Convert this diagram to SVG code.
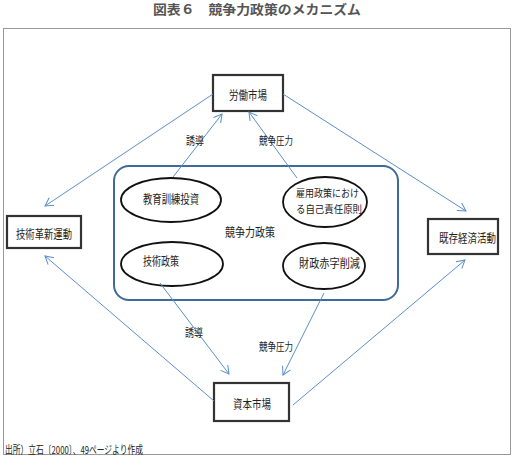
<svg xmlns="http://www.w3.org/2000/svg" width="513" height="457" viewBox="0 0 513 457">
<style>
text{font-family:"Noto Sans CJK JP","Noto Sans CJK SC",sans-serif;fill:#222;dominant-baseline:central}
.t{font-size:12px}
.s{font-size:11px}
.k{font-size:10px}
.box{fill:#fff;stroke:#333;stroke-width:2.2}
.ell{fill:#fff;stroke:#111;stroke-width:1.8}
.c{stroke:#5b8fc9;stroke-width:1;fill:none}
</style>
<defs>
<marker id="arr" markerUnits="userSpaceOnUse" markerWidth="12" markerHeight="12" refX="9" refY="5" orient="auto">
<path d="M1,0.5 L9,5 L1,9.5" fill="none" stroke="#5b8fc9" stroke-width="1"/>
</marker>
</defs>
<rect x="0" y="0" width="513" height="457" fill="#fff"/>
<text x="257" y="8" text-anchor="middle" style="font-size:13px;font-weight:bold;fill:#555" textLength="208" lengthAdjust="spacingAndGlyphs">図表６　競争力政策のメカニズム</text>
<rect x="3.5" y="28.5" width="507" height="426" fill="#fff" stroke="#999" stroke-width="1"/>

<g id="policy">
<rect x="114" y="166" width="284" height="134" rx="15" fill="#fff" stroke="#3e6b97" stroke-width="2"/>
<text class="t" x="225" y="231" textLength="50" lengthAdjust="spacingAndGlyphs">競争力政策</text>
</g>
<g id="kyoiku">
<ellipse class="ell" cx="171" cy="200" rx="50" ry="22"/>
<text class="t" x="143" y="198" textLength="56" lengthAdjust="spacingAndGlyphs">教育訓練投資</text>
</g>
<g id="koyo">
<ellipse class="ell" cx="325" cy="202" rx="42" ry="25"/>
<text class="k" x="296" y="192" textLength="63" lengthAdjust="spacingAndGlyphs">雇用政策におけ</text>
<text class="k" x="296" y="208" textLength="66" lengthAdjust="spacingAndGlyphs">る自己責任原則</text>
</g>
<g id="gijutsu">
<ellipse class="ell" cx="172" cy="264" rx="51" ry="22"/>
<text class="t" x="143" y="260" textLength="36" lengthAdjust="spacingAndGlyphs">技術政策</text>
</g>
<g id="zaisei">
<ellipse class="ell" cx="324" cy="266" rx="41" ry="23"/>
<text class="t" x="299" y="262" textLength="61" lengthAdjust="spacingAndGlyphs">財政赤字削減</text>
</g>

<g id="roudou">
<rect class="box" x="213" y="75" width="70" height="36"/>
<text class="t" x="229" y="94" textLength="38" lengthAdjust="spacingAndGlyphs">労働市場</text>
</g>
<g id="kakushin">
<rect class="box" x="7" y="216" width="74" height="32"/>
<text class="t" x="16" y="233" textLength="56" lengthAdjust="spacingAndGlyphs">技術革新運動</text>
</g>
<g id="kizon">
<rect class="box" x="428" y="219" width="70" height="35"/>
<text class="t" x="439" y="237" textLength="57" lengthAdjust="spacingAndGlyphs">既存経済活動</text>
</g>
<g id="shihon">
<rect class="box" x="214" y="383" width="75" height="38"/>
<text class="t" x="233" y="403" textLength="38" lengthAdjust="spacingAndGlyphs">資本市場</text>
</g>

<g id="connectors">
<line class="c" x1="213" y1="94" x2="45" y2="206" marker-end="url(#arr)"/>
<line class="c" x1="283" y1="94" x2="466" y2="211" marker-end="url(#arr)"/>
<line class="c" x1="173" y1="177" x2="222" y2="114" marker-end="url(#arr)"/>
<line class="c" x1="297" y1="178" x2="249" y2="112" marker-end="url(#arr)"/>
<line class="c" x1="160" y1="283" x2="229" y2="374" marker-end="url(#arr)"/>
<line class="c" x1="324" y1="293" x2="283" y2="375" marker-end="url(#arr)"/>
<line class="c" x1="214" y1="401" x2="45" y2="256" marker-end="url(#arr)"/>
<line class="c" x1="293" y1="405" x2="465" y2="260" marker-end="url(#arr)"/>
<text class="s" x="186" y="140" textLength="18" lengthAdjust="spacingAndGlyphs">誘導</text>
<text class="s" x="259" y="140" textLength="34" lengthAdjust="spacingAndGlyphs">競争圧力</text>
<text class="s" x="185" y="332" textLength="18" lengthAdjust="spacingAndGlyphs">誘導</text>
<text class="s" x="259" y="346" textLength="34" lengthAdjust="spacingAndGlyphs">競争圧力</text>
</g>

<text class="s" x="5" y="449" textLength="138" lengthAdjust="spacingAndGlyphs">出所）立石〔2000〕、49ページより作成</text>
</svg>
